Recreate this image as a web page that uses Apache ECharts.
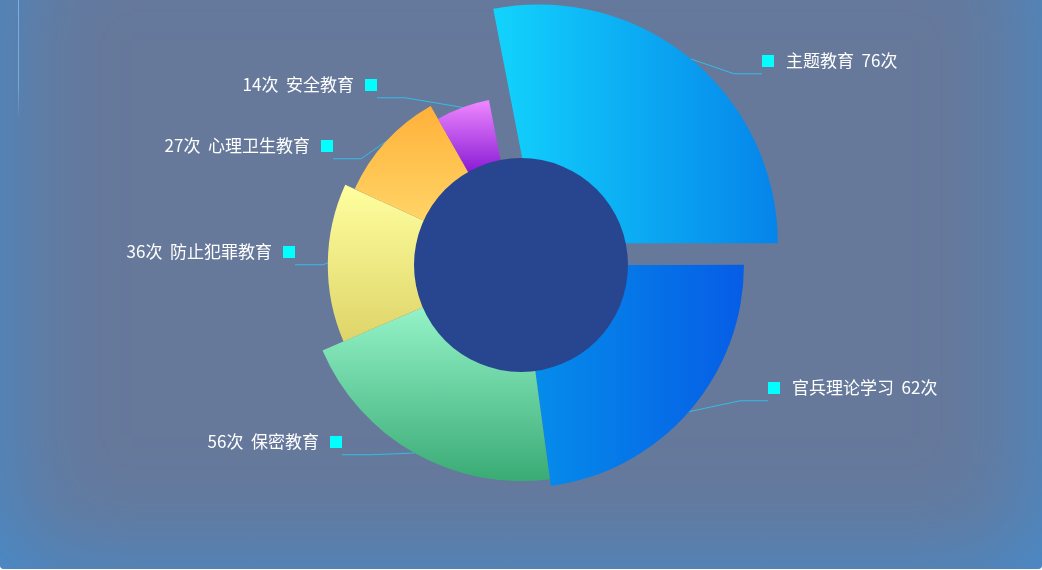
<!DOCTYPE html>
<html>
<head>
<meta charset="utf-8">
<script src="https://cdn.jsdelivr.net/npm/echarts@6/dist/echarts.min.js"></script>
<style>
  html, body { margin: 0; padding: 0; background: #ffffff; }
  #wrap { position: relative; width: 1042px; height: 570px; overflow: hidden; }
  #bg { position: absolute; left: 0; top: -90px; width: 1042px; height: 659px; background: #66799b;
        border-radius: 4px; box-shadow: inset 0 0 110px rgba(52,150,230,0.72); }
  #deco { position: absolute; left: 18px; top: 0; width: 1px; height: 120px;
          background: linear-gradient(to bottom, rgba(125,180,235,0.9) 0%, rgba(125,180,235,0.8) 70%, rgba(125,180,235,0) 100%); }
  #chart { position: absolute; left: 0; top: 0; width: 1042px; height: 570px; }
</style>
</head>
<body>
<div id="wrap">
  <div id="bg"></div>
  <div id="deco"></div>
  <div id="chart"></div>
</div>
<script>
// ---- data ----
const categories = ['主题教育', '官兵理论学习', '保密教育', '防止犯罪教育', '心理卫生教育', '安全教育'];
const counts = [76, 62, 56, 36, 27, 14];
const unitText = '次';

// ---- styles / layout ----
const sliceColors = [
  { dir: 'h', stops: ['#12d3fc', '#0584ea'] },
  { dir: 'h', stops: ['#058cea', '#065de6'] },
  { dir: 'v', stops: ['#94f3c8', '#3aab75'] },
  { dir: 'v', stops: ['#ffff9f', '#ded469'] },
  { dir: 'v', stops: ['#ffb139', '#ffd466'] },
  { dir: 'v', stops: ['#ef88ff', '#8a1cd5'] }
];
// label anchor (near edge of the label, y of its guide line)
const labelAnchors = [[762, 72], [768, 399], [342, 453], [295, 263], [333, 157], [377, 96]];
const FONT = '"Noto Sans CJK SC", "Noto Sans", sans-serif';
const CX = 521, CY = 265;
const CORE_R = 107, RIN = 152, ROUT = 239;
const OFFSET = 28;        // pull-out of the first (largest) slice
const PULLED = 0;         // index of the pulled-out slice
const START = 101;

const total = counts.reduce((a, b) => a + b, 0);
const maxV = Math.max.apply(null, counts);

function sliceAngles(i) {
  let cum = 0;
  for (let j = 0; j < i; j++) cum += counts[j];
  const a0 = START - cum / total * 360;
  const a1 = START - (cum + counts[i]) / total * 360;
  return [a0, a1];
}
function isRightSide(i) {
  const [a0, a1] = sliceAngles(i);
  return Math.cos((a0 + a1) / 2 * Math.PI / 180) >= 0;
}
function pullShift(i) {
  if (i !== PULLED) return [0, 0];
  const [a0, a1] = sliceAngles(i);
  const m = (a0 + a1) / 2 * Math.PI / 180;
  return [OFFSET * Math.cos(m), -OFFSET * Math.sin(m)];
}
function gradientFor(i) {
  const [a0, a1] = sliceAngles(i);
  const rOut = RIN + (ROUT - RIN) * counts[i] / maxV;
  const [dx, dy] = pullShift(i);
  const xs = [], ys = [];
  for (let t = 0; t <= 60; t++) {
    const a = (a0 + (a1 - a0) * t / 60) * Math.PI / 180;
    [CORE_R, rOut].forEach(r => { xs.push(CX + r * Math.cos(a) + dx); ys.push(CY - r * Math.sin(a) + dy); });
  }
  const x0 = Math.min.apply(null, xs), x1 = Math.max.apply(null, xs);
  const y0 = Math.min.apply(null, ys), y1 = Math.max.apply(null, ys);
  const c = sliceColors[i];
  const stops = [{ offset: 0, color: c.stops[0] }, { offset: 1, color: c.stops[1] }];
  return c.dir === 'h'
    ? new echarts.graphic.LinearGradient(x0, 0, x1, 0, stops, true)
    : new echarts.graphic.LinearGradient(0, y0, 0, y1, stops, true);
}

// data items; `visible(i)` decides which slices this series paints
function buildData(visible, withLabel) {
  return categories.map((name, i) => {
    const on = visible(i);
    return {
      name: name,
      value: counts[i],
      itemStyle: { color: on ? gradientFor(i) : 'rgba(0,0,0,0)' },
      label: { show: withLabel && on },
      labelLine: { show: withLabel && on }
    };
  });
}

const labelOption = {
  show: true,
  position: 'outside',
  formatter: function (p) {
    const i = p.dataIndex;
    const valStr = counts[i] + unitText;
    if (isRightSide(i)) {
      return '{icon|}{txtR|' + categories[i] + '  ' + valStr + '}\n{gap| }';
    }
    return '{txtL|' + valStr + '  ' + categories[i] + '}{icon|}\n{gap| }';
  },
  rich: {
    icon: { width: 12, height: 12, backgroundColor: '#00ffff' },
    txtR: { color: '#ffffff', fontSize: 17, fontFamily: FONT, lineHeight: 24, padding: [0, 0, 0, 12] },
    txtL: { color: '#ffffff', fontSize: 17, fontFamily: FONT, lineHeight: 24, padding: [0, 11, 0, 0] },
    gap: { fontSize: 10, lineHeight: 22, height: 22 }
  }
};
const labelLineOption = {
  show: true,
  length: 18,
  length2: 28,
  lineStyle: { color: 'rgba(40,205,250,0.8)', width: 1 }
};
function labelLayout(params) {
  const i = params.dataIndex;
  const a = labelAnchors[i];
  return { x: a[0], y: a[1], align: isRightSide(i) ? 'left' : 'right', verticalAlign: 'middle' };
}

const shift = pullShift(PULLED);
const centerMain = [CX, CY];
const centerPulled = [CX + shift[0], CY + shift[1]];

function pieSeries(name, center, radius, rose, visible, withLabel, z) {
  return {
    type: 'pie',
    name: name,
    center: center,
    radius: radius,
    roseType: rose ? 'radius' : false,
    startAngle: START,
    clockwise: true,
    silent: true,
    z: z,
    emphasis: { disabled: true },
    label: withLabel ? labelOption : { show: false },
    labelLine: withLabel ? labelLineOption : { show: false },
    labelLayout: withLabel ? labelLayout : undefined,
    data: buildData(visible, withLabel)
  };
}

const chart = echarts.init(document.getElementById('chart'), null, { renderer: 'canvas' });
chart.setOption({
  backgroundColor: 'transparent',
  animation: false,
  series: [
    pieSeries('base', centerMain, [0, RIN + 1], false, i => i !== PULLED, false, 1),
    pieSeries('basePulled', centerPulled, [0, RIN + 1], false, i => i === PULLED, false, 1),
    pieSeries('rose', centerMain, [RIN, ROUT], true, i => i !== PULLED, true, 2),
    pieSeries('rosePulled', centerPulled, [RIN, ROUT], true, i => i === PULLED, true, 2),
    {
      type: 'pie',
      name: 'core',
      center: centerMain,
      radius: [0, CORE_R],
      silent: true,
      z: 3,
      label: { show: false },
      labelLine: { show: false },
      emphasis: { disabled: true },
      itemStyle: { color: '#28468f' },
      data: [{ name: '', value: 1 }]
    }
  ]
});
</script>
</body>
</html>
